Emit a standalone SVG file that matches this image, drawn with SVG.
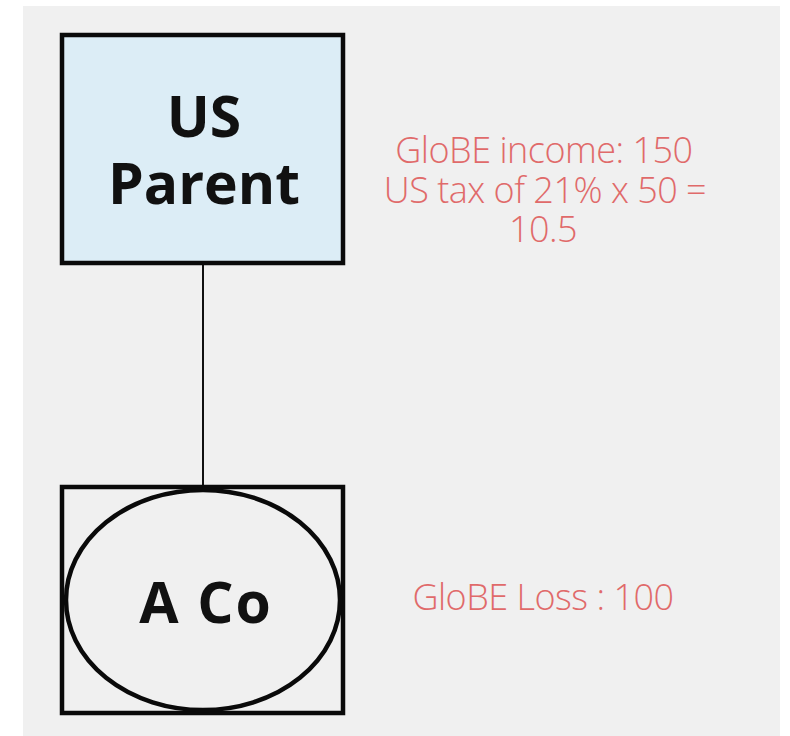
<svg xmlns="http://www.w3.org/2000/svg" width="790" height="736" viewBox="0 0 790 736">
<style>
.bg{fill:#f0f0f0}
.box{stroke:#0a0a0a;stroke-width:4.5}
.name{font-family:"Open Sans","Liberation Sans",sans-serif;font-weight:700;font-size:57px;fill:#111;text-anchor:middle}
.note{font-family:"Open Sans","Liberation Sans",sans-serif;font-weight:300;font-size:36px;fill:#e06a6a;text-anchor:middle;letter-spacing:-0.5px}
.conn{stroke:#111;stroke-width:2;fill:none}
</style>
<rect width="790" height="736" fill="#ffffff"/>
<rect class="bg" x="23" y="6" width="757" height="730"/>
<g id="connectors">
<line class="conn" x1="203" y1="265" x2="203" y2="487"/>
</g>
<g id="us-parent">
<rect class="box" x="62" y="35" width="281" height="228" fill="#dcedf6"/>
<text class="name" x="204" y="137">US</text>
<text class="name" x="204" y="204">Parent</text>
</g>
<g id="us-parent-note">
<text class="note" x="544" y="163">GloBE income: 150</text>
<text class="note" x="545" y="203">US tax of 21% x 50 =</text>
<text class="note" x="543" y="242">10.5</text>
</g>
<g id="a-co">
<rect class="box" x="62" y="487" width="281" height="226" fill="#f0f0f0"/>
<ellipse class="box" cx="203" cy="600" rx="137" ry="110" fill="#f0f0f0"/>
<text class="name" x="206" y="623" style="letter-spacing:2px">A Co</text>
</g>
<g id="a-co-note">
<text class="note" x="543" y="610">GloBE Loss : 100</text>
</g>
</svg>
